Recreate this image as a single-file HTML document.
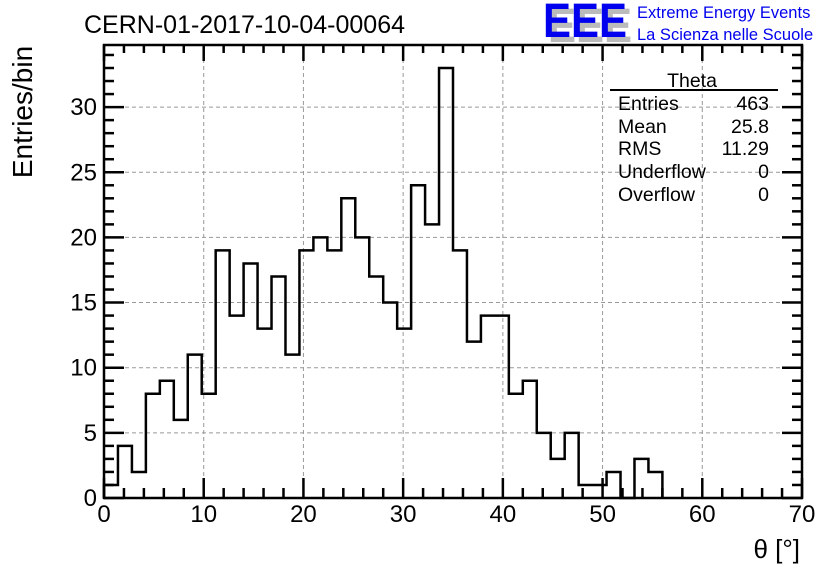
<!DOCTYPE html>
<html><head><meta charset="utf-8"><style>
html,body{margin:0;padding:0;background:#fff;}
svg{display:block;font-family:"Liberation Sans",sans-serif;}
</style></head><body>
<svg id="c" width="836" height="572">
<rect width="836" height="572" fill="#fff"/>
<text x="84" y="33" font-size="25">CERN-01-2017-10-04-00064</text>
<g>
<text x="548" y="42" font-size="48" font-weight="bold" fill="#bbb" textLength="84" lengthAdjust="spacingAndGlyphs">EEE</text>
<text x="543" y="37" font-size="48" font-weight="bold" fill="#0000ee" textLength="84" lengthAdjust="spacingAndGlyphs">EEE</text>
<text x="637" y="18" font-size="16.5" fill="#0000ee">Extreme Energy Events</text>
<text x="637" y="40" font-size="16.5" fill="#0000ee">La Scienza nelle Scuole</text>
</g>
<text transform="translate(32,112) rotate(-90)" text-anchor="middle" font-size="28">Entries/bin</text>
<text x="800" y="558" text-anchor="end" font-size="26">θ [°]</text>
<g id="grid"></g><g id="hist"></g><g id="axes"></g>
<g font-size="19.5">
<text x="692" y="87" text-anchor="middle">Theta</text>
<line x1="610" y1="90" x2="778" y2="90" stroke="#000" stroke-width="2"/>
<text x="618" y="110">Entries</text><text x="769" y="110" text-anchor="end">463</text>
<text x="618" y="133">Mean</text><text x="769" y="133" text-anchor="end">25.8</text>
<text x="618" y="155">RMS</text><text x="769" y="155" text-anchor="end">11.29</text>
<text x="618" y="178">Underflow</text><text x="769" y="178" text-anchor="end">0</text>
<text x="618" y="201">Overflow</text><text x="769" y="201" text-anchor="end">0</text>
</g>
</svg>
<script>
const binWidth = 1.4;
const counts = [1,4,2,8,9,6,11,8,19,14,18,13,17,11,19,20,19,23,20,17,15,13,24,21,33,19,12,14,14,8,9,5,3,5,1,1,2,0,3,2];
const xTicks = [0,10,20,30,40,50,60,70];
const yTicks = [0,5,10,15,20,25,30];
const X0=104,X1=802,Y0=498,Y1=45;
const xs=v=>X0+v*(X1-X0)/70;
const ys=v=>Y0-v*13.03;
const NS="http://www.w3.org/2000/svg";
function mk(t,a,p){const e=document.createElementNS(NS,t);for(const k in a)e.setAttribute(k,a[k]);p.appendChild(e);return e;}
const grid=document.getElementById('grid'),hist=document.getElementById('hist'),axes=document.getElementById('axes');
xTicks.forEach(v=>{if(v>0&&v<70){const l=mk('line',{x1:xs(v),x2:xs(v),y1:Y1,y2:Y0,stroke:'#999','stroke-dasharray':'4,3','stroke-width':1},grid);

}});
yTicks.forEach(v=>{if(v>0){const l=mk('line',{x1:X0,x2:X1,y1:ys(v),y2:ys(v),stroke:'#999','stroke-dasharray':'4,3','stroke-width':1},grid);

}});
let d='M'+xs(0)+','+Y0;
counts.forEach((c,i)=>{d+=' L'+xs(i*binWidth)+','+ys(c)+' L'+xs((i+1)*binWidth)+','+ys(c);});
d+=' L'+xs(counts.length*binWidth)+','+Y0;
const p=mk('path',{d:d,fill:'none',stroke:'#000','stroke-width':2.5},hist);


const fr=mk('rect',{x:X0,y:Y1,width:X1-X0,height:Y0-Y1,fill:'none',stroke:'#000','stroke-width':2.5},axes);


for(let v=0;v<=70;v+=2){const maj=v%10===0;
mk('line',{x1:xs(v),x2:xs(v),y1:Y0,y2:Y0-(maj?20:10),stroke:'#000','stroke-width':2.5},axes);
mk('line',{x1:xs(v),x2:xs(v),y1:Y1,y2:Y1+(maj?16:8),stroke:'#000','stroke-width':2.5},axes);}
for(let v=0;v<=34;v++){const maj=v%5===0;
mk('line',{x1:X0,x2:X0+(maj?20:10),y1:ys(v),y2:ys(v),stroke:'#000','stroke-width':2.5},axes);
mk('line',{x1:X1,x2:X1-(maj?20:10),y1:ys(v),y2:ys(v),stroke:'#000','stroke-width':2.5},axes);}
xTicks.forEach(v=>{const t=mk('text',{x:xs(v),y:522,'text-anchor':'middle','font-size':24},axes);t.textContent=v;

});
yTicks.forEach(v=>{const t=mk('text',{x:97,y:ys(v)+8,'text-anchor':'end','font-size':24},axes);t.textContent=v;

});
</script>
</body></html>
